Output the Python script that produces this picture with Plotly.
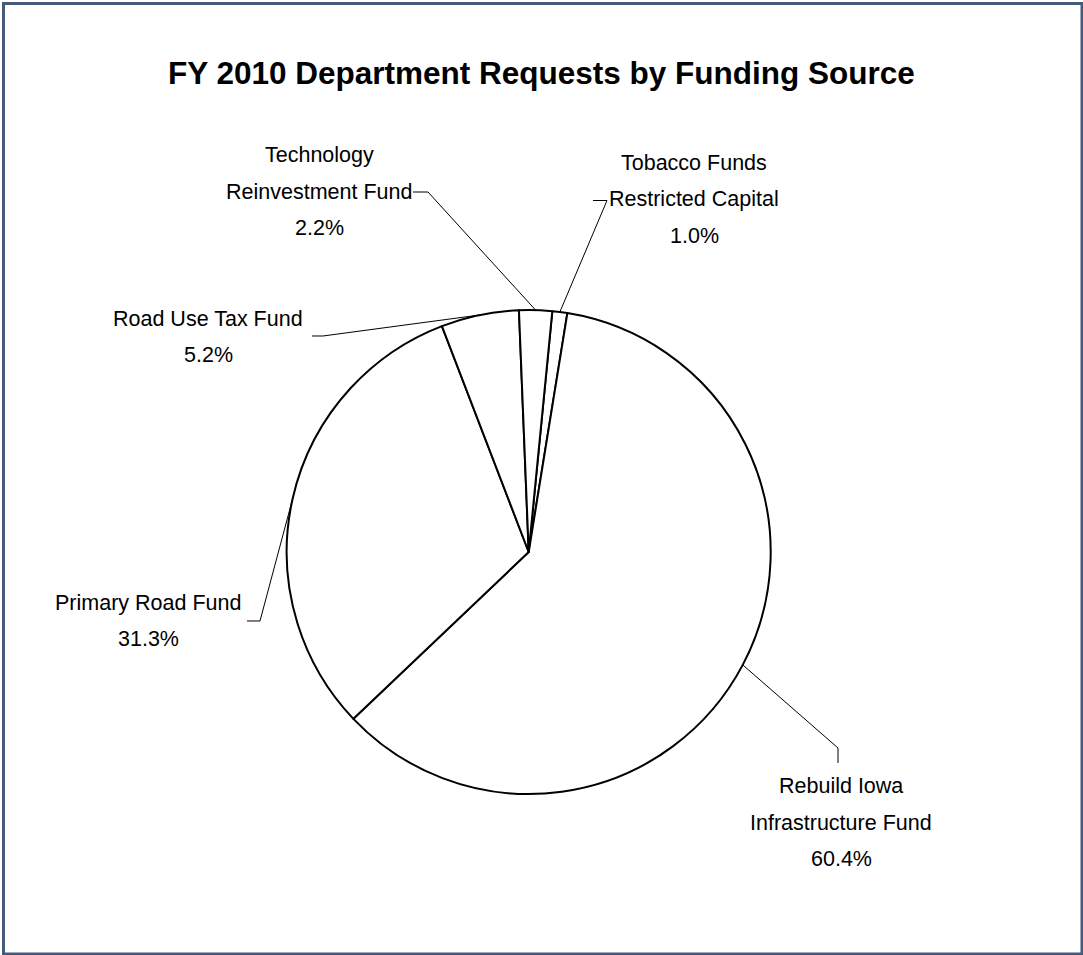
import math
import plotly.graph_objects as go

# Funding sources, clockwise from the top of the pie
sources = [
    "Tobacco Funds Restricted Capital",
    "Rebuild Iowa Infrastructure Fund",
    "Primary Road Fund",
    "Road Use Tax Fund",
    "Technology Reinvestment Fund",
]
shares = [1.0, 60.4, 31.3, 5.2, 2.2]

# Label text lines for each source
label_lines = [
    ["Tobacco Funds", "Restricted Capital"],
    ["Rebuild Iowa", "Infrastructure Fund"],
    ["Primary Road Fund"],
    ["Road Use Tax Fund"],
    ["Technology", "Reinvestment Fund"],
]

W, H = 1083, 955
CX, CY, R = 528.7, 552.0, 242.0
ROTATION = 5.6

LABEL_FONT = dict(family="Liberation Sans Narrow, Arial Narrow, Liberation Sans, Arial",
                  size=21.5, color="#000000")
LINE_GAP = 36.5

# Label block placement (centre x, y of first line) and leader elbow points
label_pos = [
    (694, 163),
    (841, 786),
    (148, 602.5),
    (208, 319),
    (319, 155),
]
leader_elbows = [
    [(593, 200.5), (607, 200.5)],
    [(838, 763), (838, 748)],
    [(247, 621), (260, 621)],
    [(312, 336), (323, 336)],
    [(413, 192), (428, 192)],
]


def px(x):
    return x / W


def py(y):
    return 1 - y / H


fig = go.Figure(go.Pie(
    labels=sources,
    values=shares,
    sort=False,
    direction="clockwise",
    rotation=ROTATION,
    textinfo="none",
    hoverinfo="label+percent",
    marker=dict(colors=["#ffffff"] * len(shares), line=dict(color="#000000", width=2)),
    domain=dict(x=[px(CX - R), px(CX + R)], y=[py(CY + R), py(CY - R)]),
    showlegend=False,
))

annotations = []
shapes = []
total = sum(shares)
cum = 0.0
for name, v, lines, (lx, ly), elbow in zip(sources, shares, label_lines, label_pos, leader_elbows):
    mid = math.radians(ROTATION + 360 * (cum + v / 2) / total)
    cum += v
    ex, ey = CX + R * math.sin(mid), CY - R * math.cos(mid)
    pts = elbow + [(ex, ey)]
    path = "M " + " L ".join(f"{px(x):.5f},{py(y):.5f}" for x, y in pts)
    shapes.append(dict(type="path", xref="paper", yref="paper", path=path,
                       line=dict(color="#000000", width=1)))
    texts = lines + [f"{v:.1f}%"]
    for i, t in enumerate(texts):
        annotations.append(dict(
            x=px(lx), y=py(ly + i * LINE_GAP), xref="paper", yref="paper",
            text=t, showarrow=False, xanchor="center", yanchor="middle",
            font=LABEL_FONT,
        ))

annotations.append(dict(
    x=px(541), y=py(73), xref="paper", yref="paper",
    text="<b>FY 2010 Department Requests by Funding Source</b>",
    showarrow=False, xanchor="center", yanchor="middle",
    font=dict(family="Liberation Sans, Arial", size=31.5, color="#000000"),
))

# Outer frame
shapes.append(dict(type="rect", xref="paper", yref="paper",
                   x0=px(3.5), x1=px(1082), y0=py(954), y1=py(3.5),
                   line=dict(color="#465a7a", width=3)))

fig.update_layout(
    width=W, height=H,
    margin=dict(l=0, r=0, t=0, b=0),
    paper_bgcolor="#ffffff",
    plot_bgcolor="#ffffff",
    annotations=annotations,
    shapes=shapes,
)

fig.write_html("out.html")
